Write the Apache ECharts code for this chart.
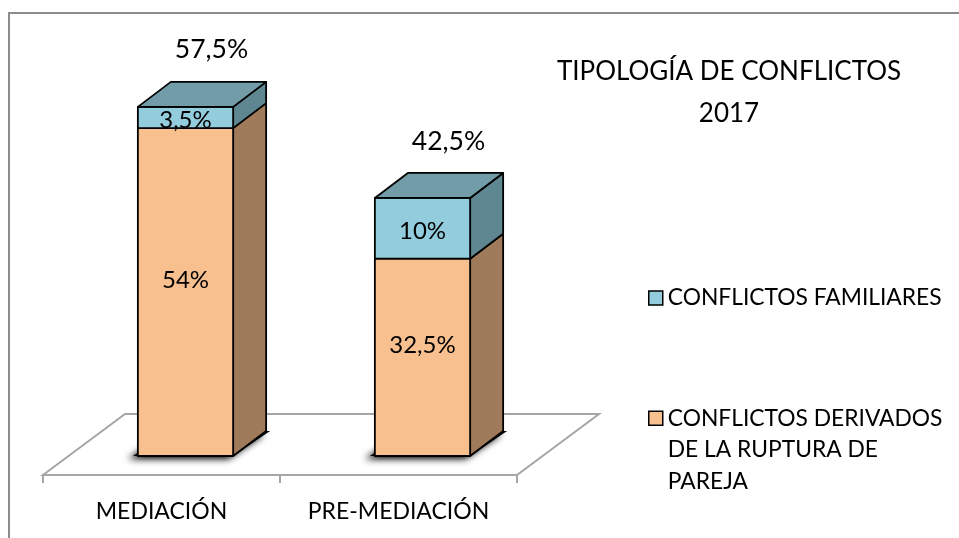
<!DOCTYPE html>
<html>
<head>
<meta charset="utf-8">
<script src="https://cdn.jsdelivr.net/npm/echarts@6/dist/echarts.min.js"></script>
<style>
html,body{margin:0;padding:0;background:#fff;}
#chart{width:959px;height:538px;}
</style>
</head>
<body>
<div id="chart"></div>
<script>
// ---- data ----
const categories = ['MEDIACIÓN', 'PRE-MEDIACIÓN'];
const seriesNames = ['CONFLICTOS DERIVADOS DE LA RUPTURA DE PAREJA', 'CONFLICTOS FAMILIARES'];
const ruptura = [54, 32.5];
const familiares = [3.5, 10];
const totals = [57.5, 42.5];
const titleText = 'TIPOLOGÍA DE CONFLICTOS\n2017';

// ---- style ----
const FONT = 'Lato';
const FRONT_OX = 24, FRONT_OY = -19;   // bar front offset from floor front
const DEPTH_X = 33, DEPTH_Y = -25;     // bar depth
const FLOOR_DX = 82, FLOOR_DY = -61;   // floor depth
const BAR_W = 0.402;                   // fraction of band
const fmt = v => String(v).replace('.', ',') + '%';

const styles = [
  {front: '#F9C08F', side: '#A07B5B', top: '#C9A27F', labelDy: -12},
  {front: '#93CDDD', side: '#5E8791', top: '#729DA8', labelDy: 3}
];

function makeRender(k, isTop) {
  const st = styles[k];
  return function (params, api) {
    const i = api.value(0), lo = api.value(1), hi = api.value(2);
    const band = api.size([1, 0])[0];
    const c = api.coord([i, 0]);
    const pLo = api.coord([i, lo]);
    const pHi = api.coord([i, hi]);
    const w = band * BAR_W;
    const x0 = c[0] + FRONT_OX - w / 2;
    const x1 = x0 + w;
    const yb = pLo[1] + FRONT_OY;
    const yt = pHi[1] + FRONT_OY;
    const children = [];
    const line = {stroke: '#000', lineWidth: 1.8, lineJoin: 'round'};
    if (k === 0) {
      children.push({
        type: 'polygon',
        shape: {points: [[x0 - 5, yb], [x1, yb], [x1 + DEPTH_X + 4, yb + DEPTH_Y], [x0 + DEPTH_X, yb + DEPTH_Y]]},
        style: {fill: '#000', shadowBlur: 7, shadowColor: '#000', shadowOffsetX: -5, shadowOffsetY: 3}
      });
    }
    children.push({
      type: 'polygon',
      shape: {points: [[x1, yt], [x1 + DEPTH_X, yt + DEPTH_Y], [x1 + DEPTH_X, yb + DEPTH_Y], [x1, yb]]},
      style: Object.assign({fill: st.side}, line)
    });
    children.push({
      type: 'rect',
      shape: {x: x0, y: yt, width: w, height: yb - yt},
      style: Object.assign({fill: st.front}, line)
    });
    if (isTop) {
      children.push({
        type: 'polygon',
        shape: {points: [[x0, yt], [x0 + DEPTH_X, yt + DEPTH_Y], [x1 + DEPTH_X, yt + DEPTH_Y], [x1, yt]]},
        style: Object.assign({fill: st.top}, line)
      });
    }
    children.push({
      type: 'text',
      style: {
        text: fmt(hi - lo), x: (x0 + x1) / 2, y: (yt + yb) / 2 + st.labelDy,
        align: 'center', verticalAlign: 'middle',
        fontSize: 24, fontFamily: FONT, fill: '#000'
      }
    });
    if (isTop) {
      children.push({
        type: 'text',
        style: {
          text: fmt(totals[i]), x: (x0 + x1) / 2 + 26, y: yt - 57,
          align: 'center', verticalAlign: 'middle',
          fontSize: 26.5, fontFamily: FONT, fill: '#000'
        }
      });
    }
    return {type: 'group', children: children};
  };
}

function renderFloor(params, api) {
  const band = api.size([1, 0])[0];
  const c0 = api.coord([0, 0]);
  const cN = api.coord([categories.length - 1, 0]);
  const left = c0[0] - band / 2, right = cN[0] + band / 2, y = c0[1];
  return {
    type: 'polygon',
    shape: {points: [[left, y], [left + FLOOR_DX, y + FLOOR_DY], [right + FLOOR_DX, y + FLOOR_DY], [right, y]]},
    style: {fill: '#fff', stroke: '#A6A6A6', lineWidth: 2}
  };
}

const chart = echarts.init(document.getElementById('chart'));
chart.setOption({
  animation: false,
  backgroundColor: '#fff',
  title: {
    text: titleText, left: 729, top: 51, padding: 0, textAlign: 'center',
    textStyle: {fontFamily: FONT, fontSize: 26, fontWeight: 'normal', color: '#000', lineHeight: 42}
  },
  legend: [
    {
      data: [seriesNames[1]], left: 648, top: 282, padding: 0, orient: 'vertical',
      itemWidth: 14, itemHeight: 14, icon: 'rect',
      itemStyle: {borderColor: '#000', borderWidth: 1.5},
      textStyle: {fontFamily: FONT, fontSize: 22.8, color: '#000', lineHeight: 32}
    },
    {
      data: [seriesNames[0]], left: 648, top: 339, padding: 0, orient: 'vertical',
      itemWidth: 14, itemHeight: 14, icon: 'rect',
      itemStyle: {borderColor: '#000', borderWidth: 1.5},
      formatter: () => '\n\nCONFLICTOS DERIVADOS\nDE LA RUPTURA DE\nPAREJA',
      textStyle: {fontFamily: FONT, fontSize: 22.8, color: '#000', lineHeight: 31.7}
    }
  ],
  graphic: [{
    type: 'rect', silent: true, z: -10,
    shape: {x: 9, y: 13, width: 1000, height: 600},
    style: {fill: 'none', stroke: '#8C8C8C', lineWidth: 2}
  }],
  grid: {left: 43, right: 442, top: 50, bottom: 63},
  xAxis: {
    type: 'category', data: categories,
    axisLine: {lineStyle: {color: '#A6A6A6', width: 2}},
    axisTick: {show: true, length: 8, lineStyle: {color: '#A6A6A6', width: 2}},
    axisLabel: {fontFamily: FONT, fontSize: 23, color: '#000', margin: 25}
  },
  yAxis: {type: 'value', min: 0, max: 70, show: false, splitLine: {show: false}},
  series: [
    {
      type: 'custom', name: 'floor', renderItem: renderFloor, data: [[0, 0]], z: 1, silent: true,
      encode: {x: 0, y: 1}
    },
    {
      type: 'custom', name: seriesNames[0], z: 2,
      itemStyle: {color: styles[0].front},
      renderItem: makeRender(0, false),
      data: categories.map((c, i) => [i, 0, ruptura[i]]),
      encode: {x: 0, y: [1, 2]}
    },
    {
      type: 'custom', name: seriesNames[1], z: 3,
      itemStyle: {color: styles[1].front},
      renderItem: makeRender(1, true),
      data: categories.map((c, i) => [i, ruptura[i], ruptura[i] + familiares[i]]),
      encode: {x: 0, y: [1, 2]}
    }
  ]
});
</script>
</body>
</html>
